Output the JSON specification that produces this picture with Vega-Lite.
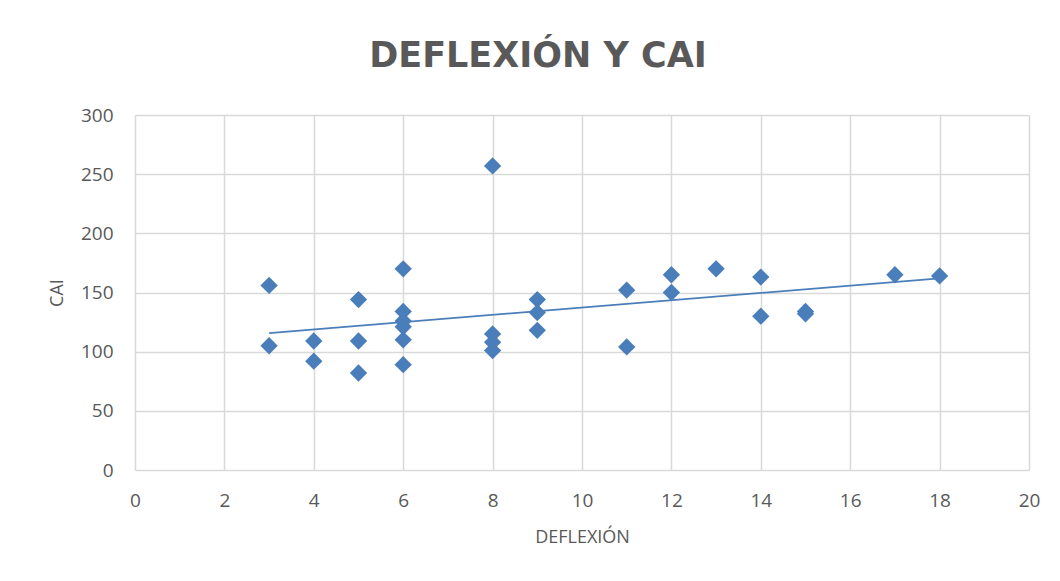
{
  "$schema": "https://vega.github.io/schema/vega-lite/v6.json",
  "autosize": "none",
  "width": 894,
  "height": 355,
  "padding": {"left": 135, "top": 115, "right": 31, "bottom": 111},
  "background": "white",
  "title": {
    "text": "DEFLEXIÓN Y CAI",
    "font": "DejaVu Sans",
    "fontSize": 35,
    "fontWeight": "bold",
    "color": "#595959",
    "offset": 32,
    "dx": -44,
    "anchor": "middle"
  },
  "data": {
    "values": [
      {"DEFLEXION": 3, "CAI": 156}, {"DEFLEXION": 3, "CAI": 105},
      {"DEFLEXION": 4, "CAI": 109}, {"DEFLEXION": 4, "CAI": 92},
      {"DEFLEXION": 5, "CAI": 144}, {"DEFLEXION": 5, "CAI": 109}, {"DEFLEXION": 5, "CAI": 82},
      {"DEFLEXION": 6, "CAI": 170}, {"DEFLEXION": 6, "CAI": 134}, {"DEFLEXION": 6, "CAI": 126},
      {"DEFLEXION": 6, "CAI": 121}, {"DEFLEXION": 6, "CAI": 110}, {"DEFLEXION": 6, "CAI": 89},
      {"DEFLEXION": 8, "CAI": 257}, {"DEFLEXION": 8, "CAI": 115}, {"DEFLEXION": 8, "CAI": 108},
      {"DEFLEXION": 8, "CAI": 101},
      {"DEFLEXION": 9, "CAI": 144}, {"DEFLEXION": 9, "CAI": 133}, {"DEFLEXION": 9, "CAI": 118},
      {"DEFLEXION": 11, "CAI": 152}, {"DEFLEXION": 11, "CAI": 104},
      {"DEFLEXION": 12, "CAI": 165}, {"DEFLEXION": 12, "CAI": 150},
      {"DEFLEXION": 13, "CAI": 170},
      {"DEFLEXION": 14, "CAI": 163}, {"DEFLEXION": 14, "CAI": 130},
      {"DEFLEXION": 15, "CAI": 134}, {"DEFLEXION": 15, "CAI": 132},
      {"DEFLEXION": 17, "CAI": 165},
      {"DEFLEXION": 18, "CAI": 164}
    ]
  },
  "encoding": {
    "x": {
      "field": "DEFLEXION",
      "type": "quantitative",
      "scale": {"domain": [0, 20], "nice": false, "zero": true},
      "axis": {
        "title": "DEFLEXIÓN",
        "values": [0, 2, 4, 6, 8, 10, 12, 14, 16, 18, 20],
        "domain": false,
        "ticks": false,
        "grid": true,
        "gridColor": "#d9d9d9",
        "gridWidth": 1.5,
        "labelFont": "Open Sans",
        "labelFontSize": 19,
        "labelColor": "#595959",
        "labelPadding": 21,
        "labelFlush": false,
        "titleFont": "Open Sans",
        "titleFontSize": 18,
        "titleFontWeight": "normal",
        "titleColor": "#595959",
        "titlePadding": 18
      }
    },
    "y": {
      "field": "CAI",
      "type": "quantitative",
      "scale": {"domain": [0, 300], "nice": false},
      "axis": {
        "title": "CAI",
        "values": [0, 50, 100, 150, 200, 250, 300],
        "domain": false,
        "ticks": false,
        "grid": true,
        "gridColor": "#d9d9d9",
        "gridWidth": 1.5,
        "labelFont": "Open Sans",
        "labelFontSize": 19,
        "labelColor": "#595959",
        "labelPadding": 22,
        "labelFlush": false,
        "titleFont": "Open Sans",
        "titleFontSize": 18,
        "titleFontWeight": "normal",
        "titleColor": "#595959",
        "titlePadding": 14
      }
    }
  },
  "layer": [
    {
      "mark": {"type": "point", "shape": "diamond", "filled": true, "size": 300, "color": "#4a7ebb", "opacity": 1}
    },
    {
      "transform": [{"regression": "CAI", "on": "DEFLEXION"}],
      "mark": {"type": "line", "color": "#4a7ebb", "strokeWidth": 1.8}
    }
  ],
  "config": {"view": {"stroke": null}}
}
